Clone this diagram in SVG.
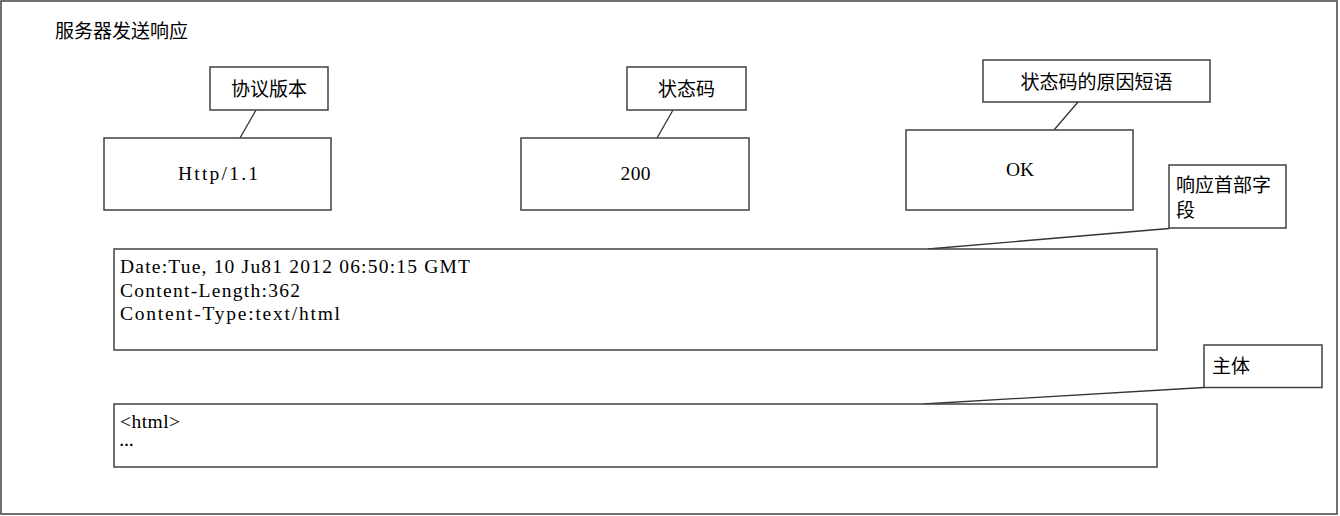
<svg xmlns="http://www.w3.org/2000/svg" width="1340" height="516" viewBox="0 0 1340 516">
<style>
.box{fill:#fff;stroke:#404040;stroke-width:1.5}
.frame{fill:#fff;stroke:#404040;stroke-width:1.5}
.conn{stroke:#333;stroke-width:1.3;fill:none}
.cjk{font-family:"Noto Sans CJK SC","Noto Sans",sans-serif;font-size:19px;fill:#000}
.mono{font-family:"Liberation Serif",serif;font-size:19.5px;fill:#000}
.mid{text-anchor:middle}
</style>
<rect class="frame" x="1" y="1" width="1336" height="513"/>
<text id="title" class="cjk" x="55" y="38">服务器发送响应</text>
<g id="connectors">
<line class="conn" x1="256" y1="110" x2="240" y2="138"/>
<line class="conn" x1="673" y1="110" x2="657" y2="138"/>
<line class="conn" x1="1078" y1="102" x2="1054" y2="130"/>
<line class="conn" x1="1169" y1="228.5" x2="928" y2="249"/>
<line class="conn" x1="1204" y1="387.5" x2="923" y2="404"/>
</g>
<g id="label-version">
<rect class="box" x="210" y="67" width="118" height="43"/>
<text class="cjk mid" x="269" y="96">协议版本</text>
</g>
<g id="node-version">
<rect class="box" x="104" y="138" width="227" height="72"/>
<text class="mono mid" x="218" y="180" textLength="80" lengthAdjust="spacing">Http/1.1</text>
</g>
<g id="label-status">
<rect class="box" x="627" y="67" width="119" height="43"/>
<text class="cjk mid" x="686.5" y="96">状态码</text>
</g>
<g id="node-status">
<rect class="box" x="521" y="138" width="228" height="72"/>
<text class="mono mid" x="635.5" y="180" textLength="30" lengthAdjust="spacing">200</text>
</g>
<g id="label-reason">
<rect class="box" x="983" y="60" width="227" height="42"/>
<text class="cjk mid" x="1096.5" y="89">状态码的原因短语</text>
</g>
<g id="node-reason">
<rect class="box" x="906" y="130" width="227" height="80"/>
<text class="mono mid" x="1020" y="176">OK</text>
</g>
<g id="label-headers">
<rect class="box" x="1169" y="165" width="117" height="63"/>
<text class="cjk" x="1176" y="192">响应首部字</text>
<text class="cjk" x="1176" y="217">段</text>
</g>
<g id="node-headers">
<rect class="box" x="114" y="249" width="1043" height="101"/>
<text class="mono" x="120" y="273" textLength="350" lengthAdjust="spacing">Date:Tue, 10 Ju81 2012 06:50:15 GMT</text>
<text class="mono" x="120" y="296.5" textLength="180" lengthAdjust="spacing">Content-Length:362</text>
<text class="mono" x="120" y="320" textLength="220" lengthAdjust="spacing">Content-Type:text/html</text>
</g>
<g id="label-body">
<rect class="box" x="1204" y="345" width="118" height="42.5"/>
<text class="cjk" x="1212" y="373">主体</text>
</g>
<g id="node-body">
<rect class="box" x="114" y="404" width="1043" height="63"/>
<text class="mono" x="120" y="428" textLength="60" lengthAdjust="spacing">&lt;html&gt;</text>
<text x="119" y="446" textLength="19" lengthAdjust="spacing" style="font-family:'Liberation Sans',sans-serif;font-size:15px;font-weight:bold;fill:#000">…</text>
</g>
</svg>
